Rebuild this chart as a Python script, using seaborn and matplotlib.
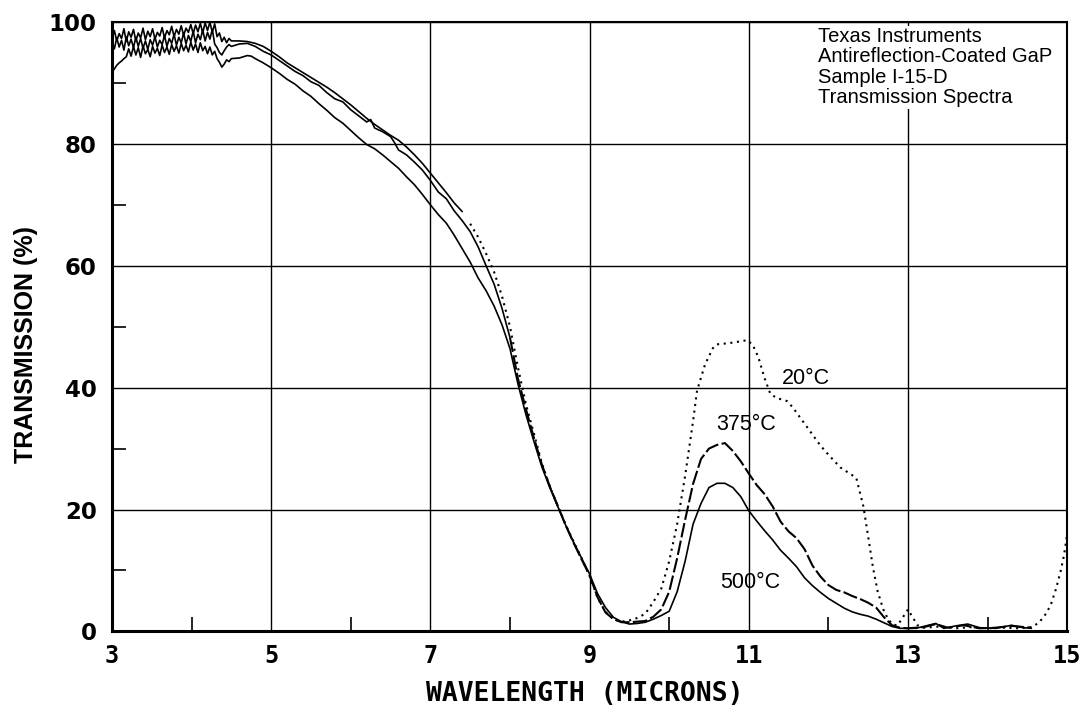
import numpy as np
import pandas as pd
import matplotlib
matplotlib.use("Agg")
import matplotlib.pyplot as plt
import seaborn as sns
from matplotlib.ticker import FixedLocator

# ---------------------------------------------------------------- data
# fine wavelength grid for the noisy short-wave part of every scan
wl_fine = [3.00, 3.03, 3.06, 3.09, 3.12, 3.15, 3.18, 3.21, 3.24, 3.27,
           3.30, 3.33, 3.36, 3.39, 3.42, 3.45, 3.48, 3.51, 3.54, 3.57,
           3.60, 3.63, 3.66, 3.69, 3.72, 3.75, 3.78, 3.81, 3.84, 3.87,
           3.90, 3.93, 3.96, 3.99, 4.02, 4.05, 4.08, 4.11, 4.14, 4.17,
           4.20, 4.23, 4.26, 4.29, 4.32, 4.35, 4.38, 4.41, 4.44, 4.47,
           4.50]

t20_fine = [97.2, 98.6, 96.9, 98.1, 97.3, 98.9, 96.8, 98.4, 97.5, 98.8,
            96.9, 98.2, 97.4, 99.0, 97.1, 98.5, 97.6, 98.9, 97.2, 98.3,
            97.7, 99.1, 97.4, 98.6, 97.9, 99.3, 97.6, 98.8, 98.0, 99.4,
            97.8, 99.0, 98.3, 99.6, 98.1, 99.5, 98.4, 99.8, 98.2, 99.9,
            98.6, 100.0, 98.3, 99.7, 97.6, 98.2, 96.8, 97.5, 96.6, 97.3,
            96.9]
t375_fine = [96.8, 95.6, 97.4, 95.9, 97.0, 95.4, 97.6, 96.1, 97.2, 95.8,
             97.5, 96.0, 97.3, 95.7, 96.9, 95.5, 97.1, 96.2, 97.6, 95.9,
             97.0, 96.3, 97.8, 96.0, 97.3, 96.5, 98.0, 96.2, 97.5, 96.6,
             98.2, 96.4, 97.8, 96.8, 98.5, 96.6, 98.0, 97.1, 98.7, 96.9,
             98.3, 97.2, 98.8, 96.4, 95.8, 95.0, 94.6, 95.3, 95.9, 96.3,
             96.0]
t500_fine = [91.8, 92.3, 92.9, 93.3, 93.6, 94.0, 94.3, 95.6, 94.4, 96.0,
             94.6, 95.8, 94.2, 96.1, 94.8, 95.5, 94.3, 96.0, 94.9, 95.7,
             94.5, 96.2, 95.0, 95.9, 94.7, 96.3, 95.2, 96.1, 94.9, 96.5,
             95.3, 96.2, 95.1, 96.7, 95.4, 96.4, 95.0, 96.6, 95.3, 96.0,
             94.8, 95.9, 94.6, 95.2, 94.0, 93.4, 92.6, 93.1, 93.8, 93.5,
             94.0]

# 20 °C scan, 4.6 - 15 microns
wl_20 = [4.6, 4.7, 4.8, 4.9, 5.0, 5.1, 5.2, 5.3, 5.4, 5.5, 5.6, 5.7, 5.8,
         5.9, 6.0, 6.1, 6.2, 6.3, 6.4, 6.5, 6.6, 6.7, 6.8, 6.9, 7.0, 7.1,
         7.2, 7.3, 7.4, 7.5, 7.6, 7.7, 7.8, 7.9, 8.0, 8.1, 8.2, 8.3, 8.4,
         8.5, 8.6, 8.7, 8.8, 8.9, 9.0, 9.1, 9.2, 9.3, 9.4, 9.5, 9.6, 9.7,
         9.8, 9.9, 10.0, 10.1, 10.2, 10.3, 10.35, 10.45, 10.55, 10.6,
         10.75, 10.9, 10.98, 11.05, 11.12, 11.2, 11.27, 11.35, 11.48,
         11.55, 11.65, 11.8, 11.9, 12.0, 12.15, 12.35, 12.44, 12.5, 12.56,
         12.62, 12.69, 12.75, 12.81, 12.87, 12.93, 13.0, 13.05, 13.12,
         13.2, 13.4, 13.6, 13.8, 14.0, 14.2, 14.4, 14.56, 14.65, 14.74,
         14.8, 14.86, 14.92, 14.96, 15.0]
t_20 = [96.9, 96.8, 96.5, 96.0, 95.2, 94.3, 93.3, 92.5, 91.7, 90.9, 90.1,
        89.3, 88.4, 87.4, 86.4, 85.3, 84.2, 83.2, 82.3, 81.4, 80.6, 79.5,
        78.2, 76.8, 75.2, 73.6, 72.0, 70.3, 68.9, 66.9, 64.7, 62.0, 59.0,
        55.0, 50.0, 43.3, 37.3, 32.5, 27.6, 23.8, 20.6, 17.5, 14.7, 12.0,
        9.1, 5.5, 3.2, 2.0, 1.6, 1.8, 2.2, 2.9, 4.8, 7.0, 11.5, 17.6,
        25.5, 34.5, 39.5, 43.8, 46.5, 47.1, 47.3, 47.6, 47.8, 47.0, 45.0,
        41.5, 39.0, 38.3, 37.8, 36.8, 35.0, 32.3, 30.5, 29.0, 26.9, 25.2,
        20.5, 15.5, 10.5, 6.5, 3.6, 2.0, 1.1, 1.0, 2.2, 3.6, 2.5, 1.0,
        0.6, 0.8, 0.5, 0.7, 0.5, 0.6, 0.5, 0.7, 1.5, 3.0, 4.6, 7.0, 10.0,
        12.5, 16.0]

# 375 °C scan, 4.6 - 14.55 microns
wl_375 = [4.6, 4.7, 4.8, 4.9, 5.0, 5.1, 5.2, 5.3, 5.4, 5.5, 5.6, 5.7, 5.8,
          5.9, 6.0, 6.1, 6.2, 6.25, 6.3, 6.4, 6.5, 6.55, 6.6, 6.7, 6.8,
          6.9, 7.0, 7.1, 7.2, 7.3, 7.4, 7.5, 7.6, 7.7, 7.8, 7.9, 8.0, 8.1,
          8.2, 8.3, 8.4, 8.5, 8.6, 8.7, 8.8, 8.9, 9.0, 9.1, 9.2, 9.3, 9.4,
          9.5, 9.6, 9.7, 9.8, 9.9, 10.0, 10.1, 10.2, 10.3, 10.4, 10.5,
          10.6, 10.7, 10.8, 10.9, 11.0, 11.1, 11.2, 11.3, 11.4, 11.5, 11.6,
          11.7, 11.8, 11.9, 12.0, 12.1, 12.2, 12.3, 12.4, 12.5, 12.6, 12.7,
          12.8, 12.9, 13.0, 13.2, 13.35, 13.5, 13.7, 13.9, 14.1, 14.3,
          14.55]
t_375 = [96.4, 96.5, 96.0, 95.2, 94.6, 93.7, 92.8, 91.9, 91.2, 90.2, 89.6,
         88.4, 87.4, 86.9, 85.6, 84.6, 83.6, 84.0, 82.6, 82.0, 81.2, 80.2,
         79.0, 78.2, 77.0, 75.7, 74.0, 72.1, 71.0, 69.0, 67.4, 65.6, 63.1,
         60.0, 57.0, 53.0, 48.2, 41.5, 36.5, 31.8, 27.4, 23.8, 20.6, 17.4,
         14.5, 11.8, 9.2, 5.6, 3.1, 2.0, 1.5, 1.5, 1.6, 1.7, 2.4, 3.6, 6.5,
         12.0, 18.3, 24.2, 28.3, 30.0, 30.6, 30.9, 29.6, 27.9, 25.9, 24.0,
         22.5, 20.5, 18.0, 16.4, 15.3, 13.5, 10.8, 9.0, 7.6, 6.8, 6.4, 5.8,
         5.3, 4.7, 3.9, 2.3, 1.0, 0.6, 0.5, 0.7, 1.2, 0.6, 1.0, 0.5, 0.6,
         0.9, 0.6]

# 500 °C scan, 4.6 - 14.55 microns
wl_500 = [4.6, 4.7, 4.75, 4.8, 4.9, 5.0, 5.1, 5.2, 5.3, 5.4, 5.5, 5.6,
          5.7, 5.8, 5.9, 6.0, 6.1, 6.2, 6.3, 6.4, 6.5, 6.6, 6.7, 6.8, 6.9,
          7.0, 7.1, 7.2, 7.3, 7.4, 7.5, 7.6, 7.7, 7.8, 7.9, 8.0, 8.1, 8.2,
          8.3, 8.4, 8.5, 8.6, 8.7, 8.8, 8.9, 9.0, 9.1, 9.2, 9.3, 9.4, 9.5,
          9.6, 9.7, 9.8, 9.9, 10.0, 10.1, 10.2, 10.3, 10.4, 10.5, 10.6,
          10.7, 10.8, 10.9, 11.0, 11.1, 11.2, 11.3, 11.4, 11.5, 11.6, 11.7,
          11.8, 11.9, 12.0, 12.1, 12.2, 12.3, 12.4, 12.5, 12.6, 12.7, 12.8,
          12.9, 13.1, 13.35, 13.45, 13.6, 13.75, 13.9, 14.1, 14.3, 14.45,
          14.55]
t_500 = [94.1, 94.5, 94.4, 94.0, 93.3, 92.5, 91.6, 90.6, 89.8, 88.7, 87.8,
         86.6, 85.5, 84.3, 83.4, 82.2, 81.0, 79.9, 79.2, 78.2, 77.1, 76.0,
         74.6, 73.3, 71.7, 70.0, 68.4, 67.0, 65.0, 62.8, 60.6, 58.0, 55.9,
         53.4, 50.3, 46.4, 40.6, 35.6, 31.2, 27.0, 23.6, 20.5, 17.4, 14.6,
         12.0, 9.4, 6.2, 3.9, 2.3, 1.6, 1.2, 1.3, 1.5, 2.0, 2.6, 3.3, 6.5,
         11.5, 17.6, 21.0, 23.6, 24.3, 24.3, 23.6, 22.1, 19.8, 18.1, 16.5,
         15.0, 13.3, 12.0, 10.6, 8.8, 7.5, 6.4, 5.4, 4.6, 3.8, 3.2, 2.8,
         2.5, 2.0, 1.4, 0.8, 0.5, 0.5, 1.3, 0.5, 0.9, 1.2, 0.6, 0.5, 1.0,
         0.6, 0.5]

# wavelength where the plotter pen switches from continuous to broken
pen_break = {"20°C": 7.42, "375°C": 8.0, "500°C": 99.0}
series_style = {"20°C": (0, (1, 2.2)), "375°C": (0, (7, 1.6)), "500°C": "-"}

label_pos = {"20°C": (11.72, 41.5), "375°C": (10.97, 34.0), "500°C": (11.02, 8.0)}

wl_ticks = [3, 5, 7, 9, 11, 13, 15]
wl_minor = [4, 6, 8, 10, 12, 14]
t_ticks = [0, 20, 40, 60, 80, 100]
t_minor = [10, 30, 50, 70, 90]
note_lines = ["Texas Instruments", "Antireflection-Coated GaP",
              "Sample I-15-D", "Transmission Spectra"]

frames = []
for name, wl, t, fine in [("20°C", wl_20, t_20, t20_fine),
                          ("375°C", wl_375, t_375, t375_fine),
                          ("500°C", wl_500, t_500, t500_fine)]:
    frames.append(pd.DataFrame({"wavelength": wl_fine + wl,
                                "transmission": fine + t,
                                "scan": name}))
spectra = pd.concat(frames, ignore_index=True)

# ---------------------------------------------------------------- figure
sns.set_theme(style="white")
plt.rcParams["font.family"] = ["Liberation Sans", "DejaVu Sans"]
plt.rcParams.update({"text.color": "black", "axes.labelcolor": "black",
                     "xtick.color": "black", "ytick.color": "black"})

fig = plt.figure(figsize=(10.83, 7.11), dpi=100)
ax = fig.add_axes([0.1034, 0.112, 0.882, 0.857])

for name, grp in spectra.groupby("scan", sort=False):
    brk = pen_break[name]
    solid = grp[grp["wavelength"] <= brk + 0.06]
    broken = grp[grp["wavelength"] >= brk]
    sns.lineplot(data=solid, x="wavelength", y="transmission", ax=ax,
                 color="black", lw=1.2, estimator=None, sort=False,
                 legend=False)
    if len(broken):
        sns.lineplot(data=broken, x="wavelength", y="transmission", ax=ax,
                     color="black", lw=1.5, estimator=None, sort=False,
                     legend=False, linestyle=series_style[name])
    lx, ly = label_pos[name]
    ax.text(lx, ly, name, ha="center", va="center", fontsize=15.5,
            color="black")

ax.set_xlim(3, 15)
ax.set_ylim(0, 100)
ax.xaxis.set_major_locator(FixedLocator(wl_ticks))
ax.yaxis.set_major_locator(FixedLocator(t_ticks))
ax.xaxis.set_minor_locator(FixedLocator(wl_minor))
ax.yaxis.set_minor_locator(FixedLocator(t_minor))

ax.grid(True, which="major", color="black", lw=1.0)
ax.tick_params(axis="both", which="major", length=0, labelcolor="black")
ax.tick_params(axis="x", which="major", pad=9)
ax.tick_params(axis="y", which="major", pad=11)
ax.tick_params(axis="both", which="minor", direction="in", length=10,
               width=1.2, color="black", bottom=True, left=True)

ax.set_xticklabels([str(v) for v in wl_ticks],
                   fontfamily="DejaVu Sans Mono", fontweight="bold",
                   fontsize=17, color="black")
ax.set_yticklabels([str(v) for v in t_ticks], fontfamily="DejaVu Sans",
                   fontweight="bold", fontsize=16.5, color="black")

ax.set_xlabel("WAVELENGTH (MICRONS)", fontfamily="DejaVu Sans Mono",
              fontweight="bold", fontsize=19, color="black")
ax.set_ylabel("TRANSMISSION (%)", fontweight="bold", fontsize=18,
              color="black")
ax.xaxis.set_label_coords(0.495, -0.082)
ax.yaxis.set_label_coords(-0.077, 0.47)

for side, spine in ax.spines.items():
    spine.set_color("black")
    spine.set_linewidth(2.2 if side in ("left", "bottom") else 1.5)

ax.text(0.739, 0.992, "\n".join(note_lines), transform=ax.transAxes,
        ha="left", va="top", fontsize=14.5, linespacing=1.1, color="black",
        bbox=dict(facecolor="white", edgecolor="none", pad=1.0))

fig.savefig("out.png", dpi=100, facecolor="white")
